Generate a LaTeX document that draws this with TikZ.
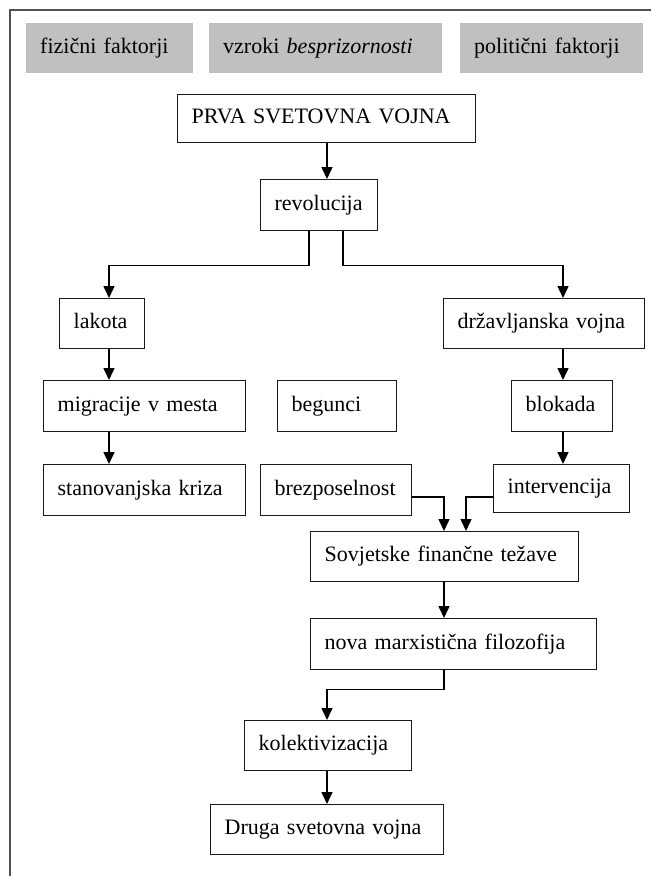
\documentclass[tikz,border=0pt]{standalone}
\usepackage{fontspec}
\setmainfont{Liberation Serif}
\usetikzlibrary{arrows.meta}
\definecolor{headgray}{HTML}{C0C0C0}
\definecolor{framegray}{HTML}{505050}
\begin{document}
\begin{tikzpicture}[x=1pt,y=-1pt,
  every node/.style={font=\fontsize{22}{26}\selectfont},
  flowbox/.style={draw=black!90, line width=1.3pt, fill=white, anchor=north west,
    inner xsep=14pt, inner ysep=0pt, align=left,
    text height=15pt, text depth=5pt, minimum height=50pt},
  headbox/.style={fill=headgray, anchor=north west, inner xsep=14pt, inner ysep=0pt,
    align=left, text height=15pt, text depth=5pt, minimum height=50pt},
  arr/.style={line width=1.5pt, -{Triangle[width=11pt,length=12pt]}},
  link/.style={line width=1.5pt}]
\useasboundingbox (0,0) rectangle (651,876);

% outer frame (left and top edges)
\draw[framegray, line width=2pt] (10,876) -- (10,10) -- (651,10);

% header bar
\node[headbox, text width=139pt] (g1) at (26,23) {fizični faktorji};
\node[headbox, text width=205pt] (g2) at (209,23) {vzroki \textit{besprizornosti}};
\node[headbox, text width=155pt] (g3) at (460,23) {politični faktorji};

% flow boxes
\node[flowbox, text width=270pt, minimum height=48pt] (prva) at (177,94) {PRVA SVETOVNA VOJNA};
\node[flowbox, text width=89pt, minimum height=51pt] (rev) at (260,179) {revolucija};
\node[flowbox, text width=57pt] (lak) at (59,298) {lakota};
\node[flowbox, text width=173pt] (drz) at (443,298) {državljanska vojna};
\node[flowbox, text width=174pt, minimum height=51pt] (mig) at (43,380) {migracije v mesta};
\node[flowbox, text width=91pt, minimum height=51pt] (beg) at (277,380) {begunci};
\node[flowbox, text width=73pt, minimum height=51pt] (blo) at (511,380) {blokada};
\node[flowbox, text width=174pt, minimum height=51pt] (sta) at (43,464) {stanovanjska kriza};
\node[flowbox, text width=123pt, minimum height=51pt] (bre) at (260,464) {brezposelnost};
\node[flowbox, text width=108pt, minimum height=48pt] (int) at (493,464) {intervencija};
\node[flowbox, text width=240pt] (sov) at (310,531) {Sovjetske finančne težave};
\node[flowbox, text width=258pt, minimum height=51pt] (nov) at (310,618) {nova marxistična filozofija};
\node[flowbox, text width=139pt] (kol) at (244,720) {kolektivizacija};
\node[flowbox, text width=205pt] (dru) at (210,804) {Druga svetovna vojna};

% x positions of the vertical connector runs
\coordinate (xa) at (327,0);
\coordinate (xl) at (309,0);
\coordinate (xr) at (343,0);
\coordinate (xlak) at (109,0);
\coordinate (xdrz) at (563,0);
\coordinate (xbre) at (444,0);
\coordinate (xint) at (466,0);
\coordinate (ybr) at (0,497);

% connectors
\draw[arr] (prva.south -| xa) -- (rev.north -| xa);
\draw[arr] (rev.south -| xl) -- ++(0,34) -| (lak.north -| xlak);
\draw[arr] (rev.south -| xr) -- ++(0,34) -| (drz.north -| xdrz);
\draw[arr] (lak.south -| xlak) -- (mig.north -| xlak);
\draw[arr] (mig.south -| xlak) -- (sta.north -| xlak);
\draw[arr] (drz.south -| xdrz) -- (blo.north -| xdrz);
\draw[arr] (blo.south -| xdrz) -- (int.north -| xdrz);
\draw[arr] (bre.east |- ybr) -| (sov.north -| xbre);
\draw[arr] (int.west |- ybr) -| (sov.north -| xint);
\draw[arr] (sov.south -| xbre) -- (nov.north -| xbre);
\draw[arr] (nov.south -| xbre) -- ++(0,19) -| (kol.north -| xa);
\draw[arr] (kol.south -| xa) -- (dru.north -| xa);
\end{tikzpicture}
\end{document}
